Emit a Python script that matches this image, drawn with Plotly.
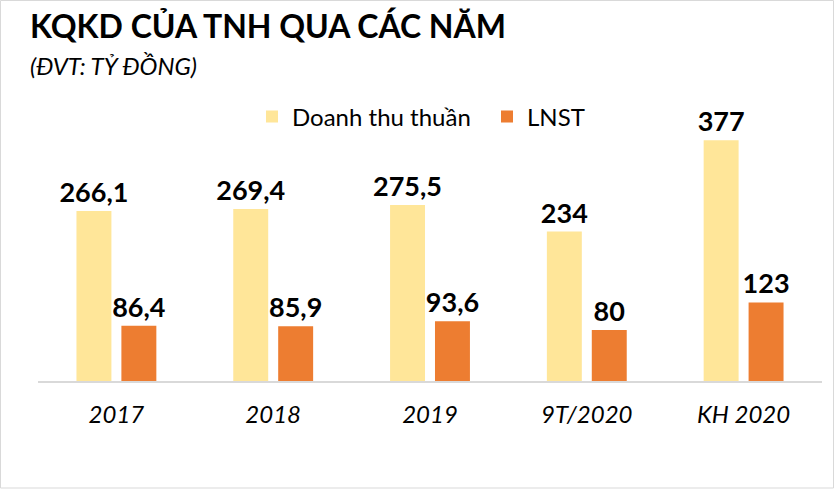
import plotly.graph_objects as go

# --- data (tỷ đồng) -----------------------------------------------------
categories = ["2017", "2018", "2019", "9T/2020", "KH 2020"]
doanh_thu = [266.1, 269.4, 275.5, 234, 377]
lnst = [86.4, 85.9, 93.6, 80, 123]
series_names = ["Doanh thu thuần", "LNST"]

# --- canvas geometry (px) -------------------------------------------------
W, H = 836, 489
L, R, T, B = 38, 14, 100, 108
PW, PH = W - L - R, H - T - B


def px_x(px):
    return (px - L) / PW


def px_y(py):
    return (H - B - py) / PH


def vn(v):
    return f"{v:g}".replace(".", ",")


FONT = "Lato"
label_font = dict(family=FONT, size=27, color="black", weight="bold")

fig = go.Figure()
for name, vals, color in [
    (series_names[0], doanh_thu, "#FFE699"),
    (series_names[1], lnst, "#ED7D31"),
]:
    fig.add_trace(go.Bar(
        x=categories, y=vals, name=name,
        marker=dict(color=color, line=dict(width=0)),
        text=[vn(v) for v in vals], textposition="outside",
        textfont=label_font, cliponaxis=False, constraintext="none",
        hoverinfo="skip",
    ))

fig.update_layout(
    width=W, height=H,
    margin=dict(l=L, r=R, t=T, b=B, pad=0),
    paper_bgcolor="white", plot_bgcolor="white",
    barmode="group", bargap=0.427, bargroupgap=0.222,
    font=dict(family=FONT, color="black"),
    showlegend=True,
    legend=dict(
        orientation="h", x=px_x(252), y=px_y(117),
        xanchor="left", yanchor="middle",
        font=dict(family=FONT, size=24, color="black"),
        itemwidth=30, traceorder="normal", entrywidth=190,
        bgcolor="rgba(0,0,0,0)",
    ),
    xaxis=dict(
        showline=True, linecolor="#D9D9D9", linewidth=1.5,
        ticks="outside", ticklen=11, tickcolor="rgba(0,0,0,0)",
        tickfont=dict(family=FONT, size=24, color="black", style="italic"),
        showgrid=False, fixedrange=True,
    ),
    yaxis=dict(
        range=[0, 440], visible=False, showgrid=False, fixedrange=True,
    ),
    annotations=[
        dict(text="<b>KQKD CỦA TNH QUA CÁC NĂM</b>", xref="paper", yref="paper",
             x=px_x(28), y=px_y(26), xanchor="left", yanchor="middle",
             showarrow=False, font=dict(family=FONT, size=32, color="black")),
        dict(text="<i>(ĐVT: TỶ ĐỒNG)</i>", xref="paper", yref="paper",
             x=px_x(28), y=px_y(65), xanchor="left", yanchor="middle",
             showarrow=False, font=dict(family=FONT, size=24, color="black")),
    ],
    shapes=[
        dict(type="rect", xref="paper", yref="paper",
             x0=px_x(0.5), x1=px_x(W - 2.5), y0=px_y(0.5), y1=px_y(H - 1),
             line=dict(color="#D9D9D9", width=1), layer="below"),
    ],
)

# the page's default body margin would push the chart 8px down and right
fig.write_html("out.html", config={"displayModeBar": False},
               post_script="document.body.style.margin = '0';")
